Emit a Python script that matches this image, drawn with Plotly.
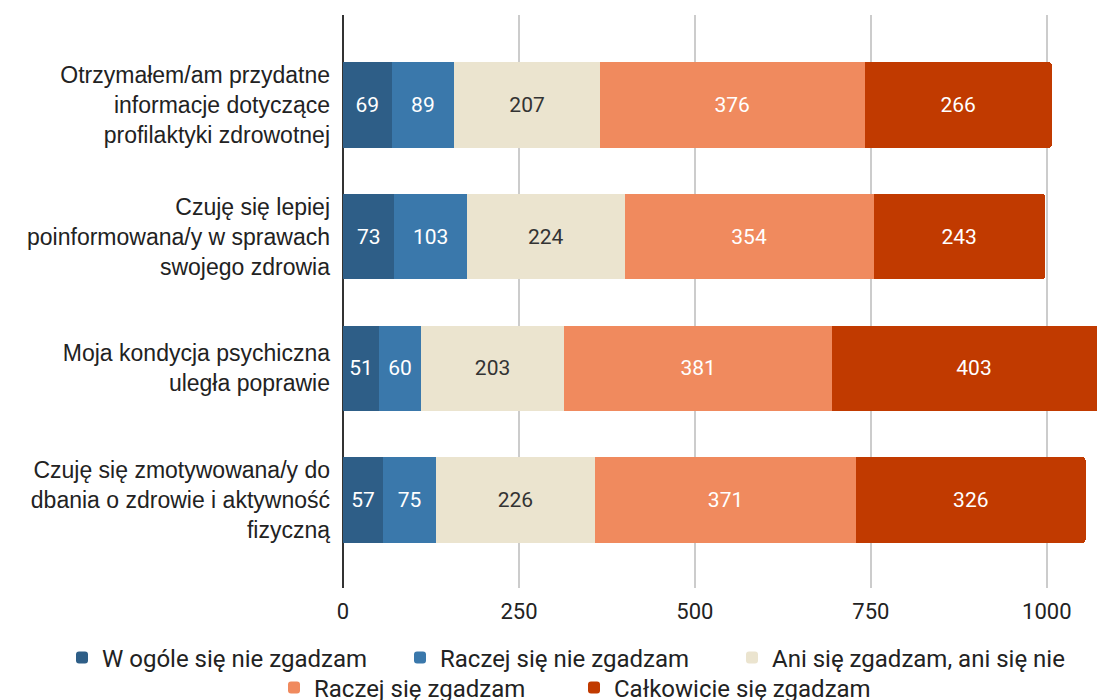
import plotly.graph_objects as go

categories = [
    "Otrzymałem/am przydatne<br>informacje dotyczące<br>profilaktyki zdrowotnej",
    "Czuję się lepiej<br>poinformowana/y w sprawach<br>swojego zdrowia",
    "Moja kondycja psychiczna<br>uległa poprawie",
    "Czuję się zmotywowana/y do<br>dbania o zdrowie i aktywność<br>fizyczną",
]
series_names = [
    "W ogóle się nie zgadzam",
    "Raczej się nie zgadzam",
    "Ani się zgadzam, ani się nie",
    "Raczej się zgadzam",
    "Całkowicie się zgadzam",
]
w_ogole = [69, 73, 51, 57]
raczej_nie = [89, 103, 60, 75]
ani = [207, 224, 203, 226]
raczej_tak = [376, 354, 381, 371]
calkowicie = [266, 243, 403, 326]
values = [w_ogole, raczej_nie, ani, raczej_tak, calkowicie]
colors = ["#2e5e87", "#3a78ab", "#ebe4cf", "#f08a5e", "#c13a00"]
text_colors = ["#ffffff", "#ffffff", "#333333", "#ffffff", "#ffffff"]
tick_vals = [0, 250, 500, 750, 1000]

# legend placement (container pixels: left edge, vertical centre)
legend_ids = ["legend", "legend2", "legend3", "legend4", "legend5"]
legend_left_px = [54, 392, 724, 266, 566]
legend_mid_px = [650, 650, 650, 680, 680]

W, H = 1105, 700

fig = go.Figure()
for name, vals, col, tcol, lg in zip(series_names, values, colors, text_colors, legend_ids):
    fig.add_trace(go.Bar(
        y=categories, x=vals, name=name, orientation="h",
        marker=dict(color=col, line=dict(width=0)),
        text=[str(v) for v in vals], textposition="inside",
        insidetextanchor="middle", constraintext="none",
        textfont=dict(family="Roboto", size=21, color=tcol),
        hoverinfo="x+name", legend=lg, showlegend=True,
    ))

legends = {}
for lg, lx, my in zip(legend_ids, legend_left_px, legend_mid_px):
    legends[lg] = dict(
        orientation="h", xref="container", yref="container",
        x=lx / W, xanchor="left", y=(H - my) / H, yanchor="middle",
        font=dict(family="Roboto", size=24, color="#222222"),
        itemwidth=30, bgcolor="rgba(0,0,0,0)", visible=True,
    )

fig.update_layout(
    showlegend=True,
    barmode="stack",
    bargap=0.35,
    barcornerradius=3,
    width=W, height=H,
    margin=dict(l=335, r=0, t=7, b=120, autoexpand=False),
    paper_bgcolor="white", plot_bgcolor="white",
    uniformtext=dict(mode=False),
    xaxis=dict(
        range=[0, 1094], tickvals=tick_vals, automargin=False,
        showgrid=True, gridcolor="#cccccc", gridwidth=1.5,
        zeroline=True, zerolinecolor="#333333", zerolinewidth=1.5,
        showline=False, ticks="", ticklabelstandoff=8,
        tickfont=dict(family="Roboto", size=22, color="#222222"),
    ),
    yaxis=dict(
        range=[3.668, -0.683], ticks="", showgrid=False, automargin=False,
        tickfont=dict(family="Liberation Sans", size=23, color="#222222"),
        ticklabelstandoff=12,
    ),
    **legends,
)
fig.write_html("out.html")
